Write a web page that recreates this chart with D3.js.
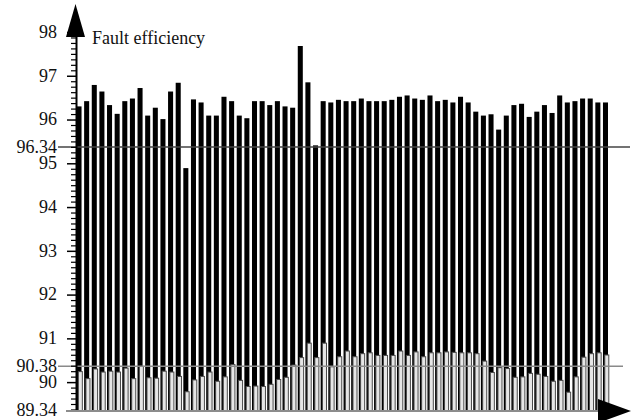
<!DOCTYPE html>
<html>
<head>
<meta charset="utf-8">
<script src="https://cdn.jsdelivr.net/npm/d3@7"></script>
<style>
	body { margin: 0; background: #fff; }
	svg text { font-family: "Liberation Serif", "Times New Roman", serif; fill: #111; }
</style>
</head>
<body>
<svg id="chart" width="632" height="420"></svg>
<script>
// values, one per run (70 runs)
var faultEfficiency = [
	96.30, 96.42, 96.79, 96.64, 96.33, 96.13, 96.42, 96.48, 96.72, 96.09,
	96.27, 96.01, 96.64, 96.84, 94.89, 96.46, 96.39, 96.09, 96.09, 96.52,
	96.42, 96.09, 96.03, 96.42, 96.42, 96.33, 96.42, 96.30, 96.27, 97.68,
	96.85, 95.41, 96.42, 96.39, 96.45, 96.42, 96.42, 96.48, 96.42, 96.42,
	96.42, 96.45, 96.52, 96.55, 96.48, 96.45, 96.55, 96.42, 96.45, 96.39,
	96.52, 96.39, 96.18, 96.09, 96.12, 95.77, 96.09, 96.33, 96.36, 96.06,
	96.18, 96.33, 96.15, 96.55, 96.39, 96.42, 96.48, 96.48, 96.39, 96.39
];
var baseEfficiency = [
	90.24, 90.08, 90.30, 90.23, 90.25, 90.23, 90.32, 90.08, 90.36, 90.10,
	90.09, 90.25, 90.23, 90.13, 89.78, 90.05, 90.13, 90.23, 90.02, 90.12,
	90.40, 90.04, 89.90, 89.91, 89.90, 89.95, 90.06, 90.11, 90.39, 90.56,
	90.89, 90.56, 90.89, 90.35, 90.58, 90.71, 90.58, 90.65, 90.67, 90.61,
	90.61, 90.61, 90.71, 90.61, 90.69, 90.58, 90.67, 90.67, 90.69, 90.68,
	90.67, 90.67, 90.65, 90.48, 90.22, 90.33, 90.31, 90.11, 90.12, 90.20,
	90.18, 90.13, 90.02, 90.04, 89.77, 90.12, 90.57, 90.65, 90.67, 90.62
];
var yTicks = [90, 91, 92, 93, 94, 95, 96, 97, 98];
// the reference draws the "96.34" rule lower than its label says; keep where it sits
var markers = [
	{ label: "96.34", at: 95.37, color: "#444", end: 630 },
	{ label: "90.38", at: 90.36, color: "#8a8a8a", end: 623 }
];
var yMin = 89.34, yMax = 98;
var title = "Fault efficiency";

var svg = d3.select("#chart");

var y = d3.scaleLinear().domain([yMin, yMax]).range([411, 32]);
var x = d3.scaleBand()
	.domain(d3.range(faultEfficiency.length))
	.range([76.5, 608])
	.paddingInner(0.34);

// black bars
svg.append("g").selectAll("rect")
	.data(faultEfficiency)
	.enter().append("rect")
	.attr("x", function(d, i) { return x(i); })
	.attr("y", function(d) { return y(d); })
	.attr("width", x.bandwidth())
	.attr("height", function(d) { return y(yMin) - y(d); })
	.attr("fill", "#000");

// light bars on top
svg.append("g").selectAll("rect")
	.data(baseEfficiency)
	.enter().append("rect")
	.attr("x", function(d, i) { return x(i) + 1.8; })
	.attr("y", function(d) { return y(d); })
	.attr("width", x.bandwidth() - 1)
	.attr("height", function(d) { return y(yMin) - y(d); })
	.attr("fill", "#e6e6e6")
	.attr("stroke", "#4a4a4a")
	.attr("stroke-width", 1);

// reference rules
svg.append("g").selectAll("line")
	.data(markers)
	.enter().append("line")
	.attr("x1", 58)
	.attr("x2", function(d) { return d.end; })
	.attr("y1", function(d) { return y(d.at); })
	.attr("y2", function(d) { return y(d.at); })
	.attr("stroke", function(d) { return d.color; })
	.attr("stroke-width", 1.5);

// minor ticks
var minor = d3.range(yMin, yMax, 0.125)
	.map(function(v) { return Math.ceil(v * 8) / 8; })
	.filter(function(v) { return v > yMin && v % 1 !== 0; });
svg.append("g")
	.attr("transform", "translate(76,0)")
	.call(d3.axisLeft(y).tickValues(minor).tickSize(5).tickFormat(""))
	.call(function(g) { g.select(".domain").remove(); })
	.selectAll("line").attr("stroke", "#000").attr("stroke-width", 1.2);

// major ticks + labels
var yAxis = svg.append("g")
	.attr("transform", "translate(76,0)")
	.call(d3.axisLeft(y).tickValues(yTicks).tickSizeInner(9).tickSizeOuter(0).tickPadding(10).tickFormat(d3.format("d")));
yAxis.select(".domain").attr("stroke", "#000").attr("stroke-width", 2);
yAxis.selectAll("line").attr("stroke-width", 1.5);
yAxis.selectAll("text").style("font-size", "18px").attr("dy", "0.3em");

// extra value labels
var extra = markers.map(function(m) { return { label: m.label, at: m.at }; })
	.concat([{ label: "89.34", at: yMin }]);
svg.append("g").selectAll("text")
	.data(extra)
	.enter().append("text")
	.attr("x", 57)
	.attr("y", function(d) { return y(d.at); })
	.attr("dy", "0.3em")
	.attr("text-anchor", "end")
	.style("font-size", "18px")
	.text(function(d) { return d.label; });

// x axis line and arrows
svg.append("line")
	.attr("x1", 66).attr("x2", 600)
	.attr("y1", y(yMin)).attr("y2", y(yMin))
	.attr("stroke", "#8c8c8c")
	.attr("stroke-width", 2);
svg.append("path")
	.attr("d", "M66,37L75.5,4L85,37Z")
	.attr("fill", "#000");
svg.append("path")
	.attr("d", "M598,399L631,411L598,423Z")
	.attr("fill", "#000");

svg.append("text")
	.attr("x", 92)
	.attr("y", 44)
	.style("font-size", "18px")
	.text(title);
</script>
</body>
</html>
